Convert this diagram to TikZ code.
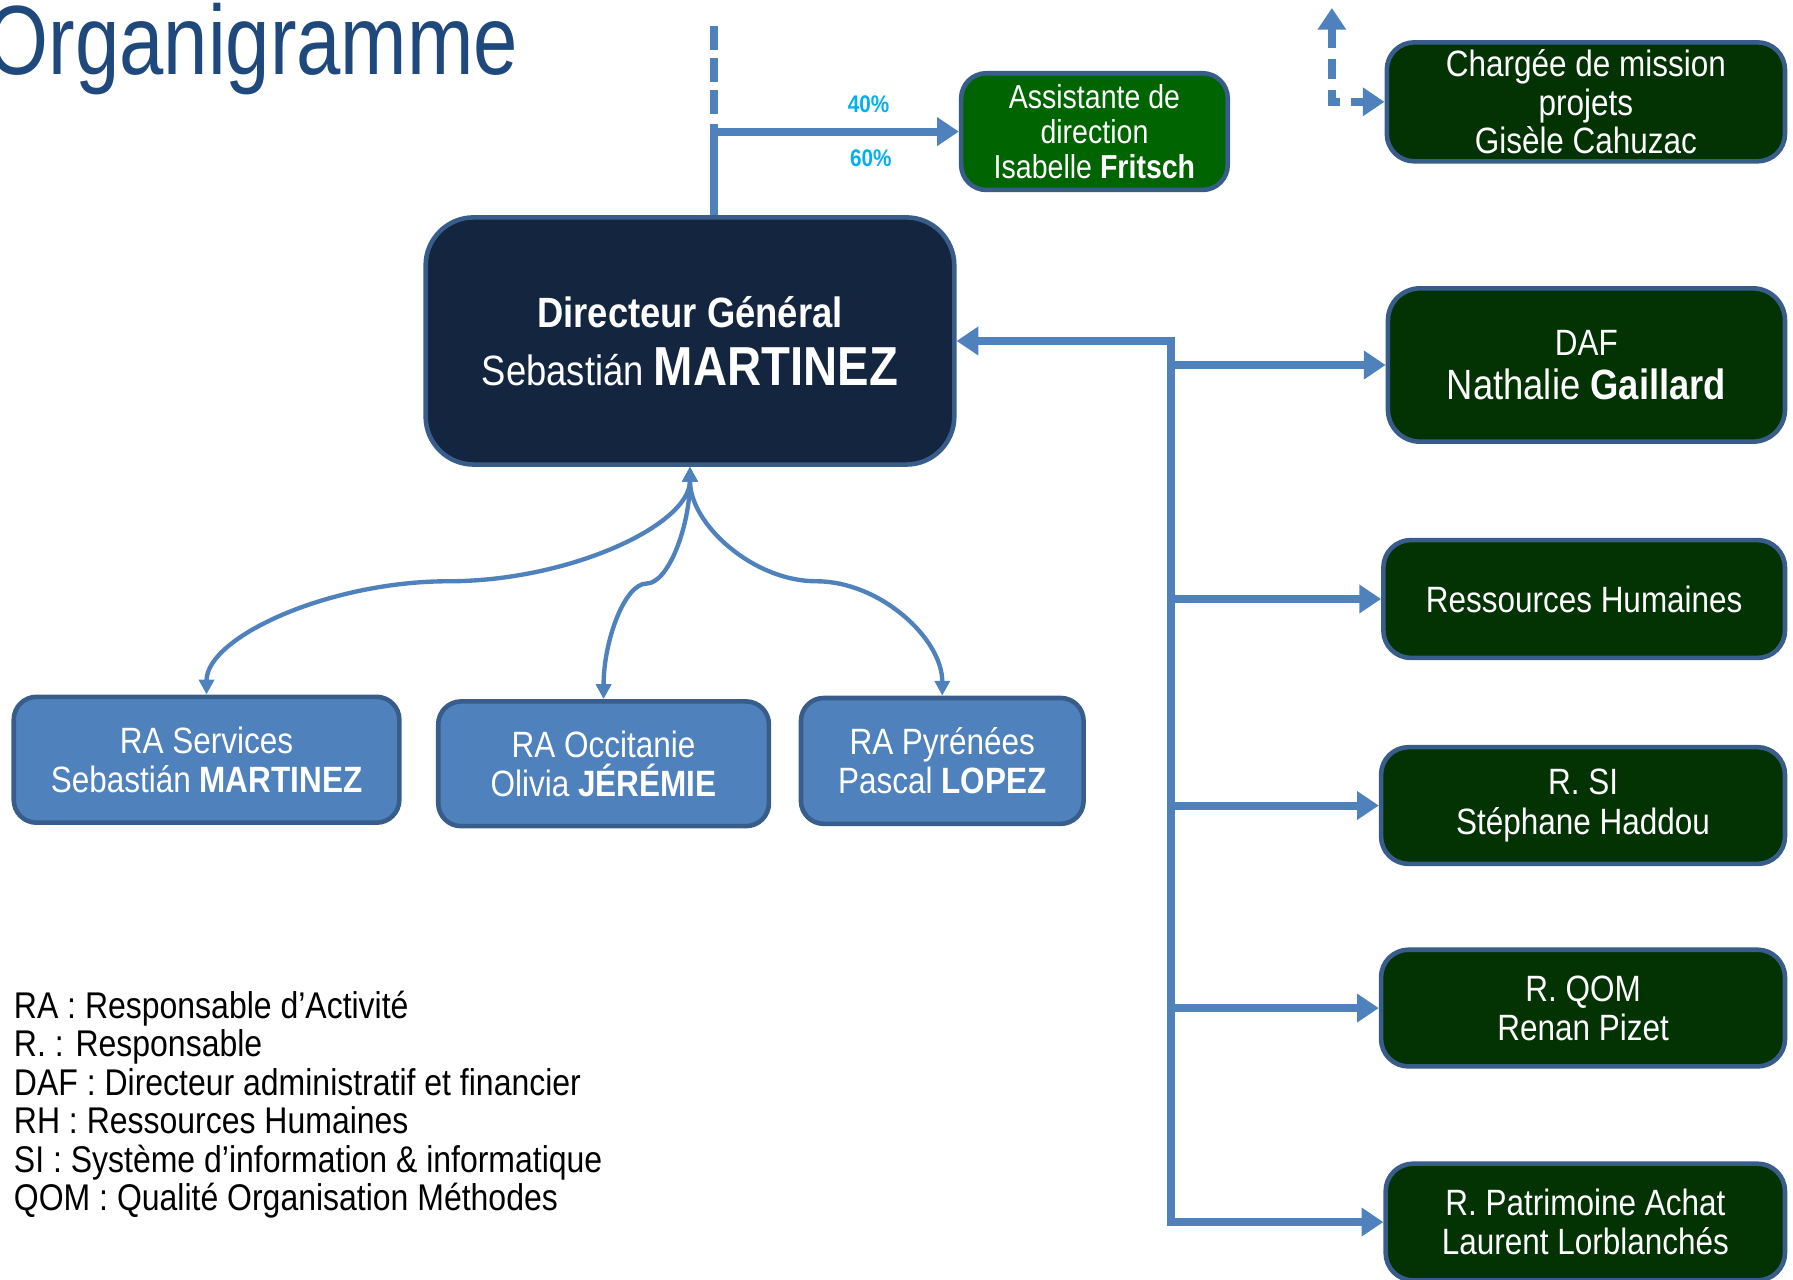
\documentclass[tikz,border=0pt]{standalone}
\usepackage{fontspec}
\setmainfont[FakeStretch=0.86]{Liberation Sans}
\newfontfamily\titlefont[FakeStretch=0.81]{Liberation Sans}
\usetikzlibrary{arrows.meta}
\definecolor{conn}{HTML}{4F81BD}
\definecolor{bord}{HTML}{385D8A}
\definecolor{navy}{HTML}{14253F}
\definecolor{greenA}{HTML}{006400}
\definecolor{greenB}{HTML}{033303}
\definecolor{rafill}{HTML}{4F81BD}
\definecolor{pct}{HTML}{00B0F0}
\definecolor{titlec}{HTML}{1F497D}
\begin{document}
\begin{tikzpicture}[x=1pt,y=-1pt,
  box/.style={draw=bord, line width=4pt, text=white, align=center, inner sep=0pt},
  dgbox/.style={box, fill=navy, rounded corners=42pt},
  asbox/.style={box, fill=greenA, rounded corners=22pt},
  gbox/.style={box, fill=greenB, rounded corners=24pt},
  rabox/.style={box, fill=rafill, rounded corners=20pt},
  bigline/.style={draw=conn, line width=7pt},
  bigtip/.tip={Triangle[length=19pt,width=24pt]},
  smalltip/.tip={Triangle[length=13pt,width=13pt]},
  curve/.style={draw=conn, line width=3.8pt, {smalltip}-{smalltip}},
  legend/.style={anchor=base west, inner sep=0pt, font=\fontsize{32.5}{34}\selectfont},
  pctlabel/.style={text=pct, inner sep=0pt, font=\fontsize{21}{23}\selectfont\bfseries}
]
\useasboundingbox (0,0) rectangle (1567,1118);

% title
\node[anchor=base east, inner sep=0pt, text=titlec, font=\fontsize{86}{90}\titlefont] (title) at (453,65) {Organigramme};

% boxes
\node[dgbox, minimum width=462pt, minimum height=216pt,
      font=\fontsize{37}{39}\selectfont] (dg) at (603,298)
  {{\bfseries Directeur Général}\\[12pt]Sebastián {\fontsize{48}{50}\selectfont\bfseries MARTINEZ}};
\node[asbox, minimum width=233pt, minimum height=102pt,
      font=\fontsize{29}{30.5}\selectfont] (asst) at (956.5,115)
  {Assistante de\\direction\\Isabelle \textbf{Fritsch}};
\node[gbox, minimum width=348pt, minimum height=104pt,
      font=\fontsize{32}{33.5}\selectfont] (charg) at (1386,89)
  {Chargée de mission\\projets\\Gisèle Cahuzac};
\node[gbox, rounded corners=28pt, minimum width=347pt, minimum height=134pt,
      font=\fontsize{32}{38.5}\selectfont] (daf) at (1386.5,319)
  {DAF\\{\fontsize{37}{39}\selectfont Nathalie \textbf{Gaillard}}};
\node[gbox, minimum width=351pt, minimum height=103pt,
      font=\fontsize{32}{34}\selectfont] (rh) at (1384.5,523.5)
  {Ressources Humaines};
\node[gbox, minimum width=353pt, minimum height=102pt,
      font=\fontsize{32}{35}\selectfont] (si) at (1383.5,704)
  {R. SI\\Stéphane Haddou};
\node[gbox, minimum width=353pt, minimum height=102pt,
      font=\fontsize{32}{34}\selectfont] (qom) at (1383.5,881)
  {R. QOM\\Renan Pizet};
\node[gbox, minimum width=349pt, minimum height=102pt,
      font=\fontsize{32}{34}\selectfont] (pat) at (1385.5,1068)
  {R. Patrimoine Achat\\Laurent Lorblanchés};

\node[rabox, minimum width=337pt, minimum height=110pt,
      font=\fontsize{32}{34}\selectfont] (ras) at (180.5,664)
  {RA Services\\Sebastián \textbf{MARTINEZ}};
\node[rabox, minimum width=289pt, minimum height=109pt,
      font=\fontsize{32}{34}\selectfont] (rao) at (527.5,667.5)
  {RA Occitanie\\Olivia \textbf{JÉRÉMIE}};
\node[rabox, minimum width=247pt, minimum height=110pt,
      font=\fontsize{32}{34}\selectfont] (rap) at (823.5,665)
  {RA Pyrénées\\Pascal \textbf{LOPEZ}};

% top link to assistant
\coordinate (tt) at (624,23);
\coordinate (td) at (624,101);
\coordinate (ts) at (624,108);
\coordinate (tj) at (624,115);
\draw[bigline, dash pattern=on 21pt off 7pt] (tt) -- (td);
\draw[bigline] (ts) -- (dg.north -| ts);
\draw[bigline, -{bigtip}] (tj) -- (asst.west);
\node[pctlabel] (p40) at (759,91) {40\%};
\node[pctlabel] (p60) at (761,138) {60\%};

% dashed link near Chargee
\coordinate (ctop) at (1164,7);
\coordinate (ccorner) at (1164,89);
\draw[bigline, line width=6.5pt, dash pattern=on 17pt off 10pt, {bigtip}-{bigtip}] (ctop) -- (ccorner) -- (charg.west);

% right bus
\coordinate (b0) at (1023,298);
\draw[bigline, {bigtip}-{bigtip}] (dg.east) -- (b0) |- (pat.west);
\foreach \n in {daf,rh,si,qom}
  \draw[bigline, -{bigtip}] (b0 |- \n.west) -- (\n.west);

% curved links to RA
\coordinate (m1) at (392,508);
\coordinate (m2) at (565,510);
\coordinate (m3) at (713.5,508);
\draw[curve] (dg.south) .. controls (603,459) and (497,508) .. (m1)
  .. controls (287,508) and (180.5,557) .. (ras.north);
\draw[curve] (dg.south) .. controls (603,460) and (584,510) .. (m2)
  .. controls (546,510) and (527.5,560) .. (rao.north);
\draw[curve] (dg.south) .. controls (603,458) and (658,508) .. (m3)
  .. controls (769,508) and (823.5,558) .. (rap.north);

% legend
\node[legend] (l1) at (12,890) {RA : Responsable d’Activité};
\node[legend] (l2) at (12,923.6) {R. : Responsable};
\node[legend] (l3) at (12,957.2) {DAF : Directeur administratif et financier};
\node[legend] (l4) at (12,990.8) {RH : Ressources Humaines};
\node[legend] (l5) at (12,1024.4) {SI : Système d’information \& informatique};
\node[legend] (l6) at (12,1058) {QOM : Qualité Organisation Méthodes};
\end{tikzpicture}
\end{document}
